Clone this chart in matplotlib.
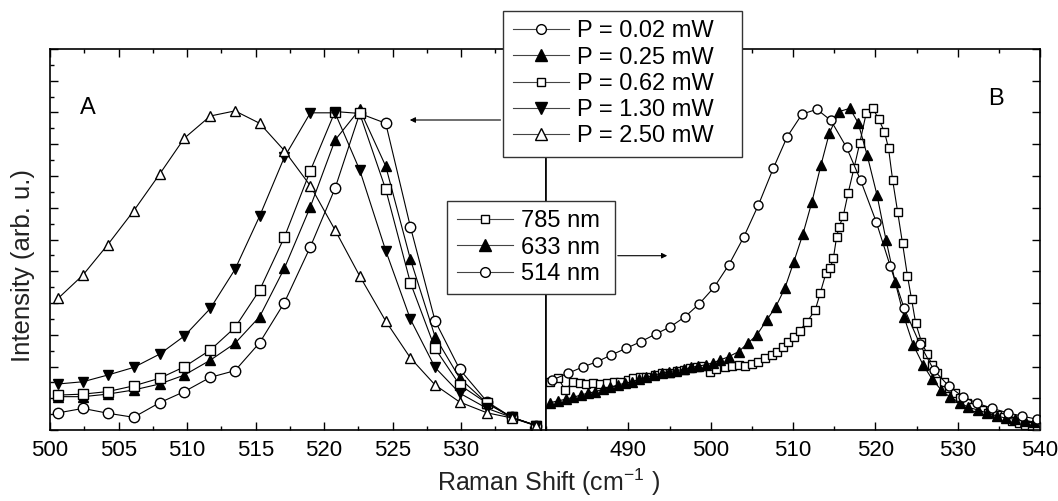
import matplotlib
matplotlib.use("Agg")
import matplotlib.pyplot as plt
from matplotlib.ticker import MultipleLocator
from matplotlib.patches import FancyArrowPatch
from matplotlib.lines import Line2D

plt.rcParams['font.family'] = ['Liberation Sans', 'DejaVu Sans']
plt.rcParams['mathtext.fontset'] = 'custom'
plt.rcParams['mathtext.rm'] = 'Liberation Sans'
plt.rcParams['mathtext.it'] = 'Liberation Sans'
plt.rcParams['mathtext.default'] = 'regular'

# panel A: power series, shared x
x_a = [500.6, 502.4, 504.2, 506.1, 508.0, 509.8, 511.7, 513.5, 515.3, 517.1,
       519.0, 520.8, 522.6, 524.5, 526.3, 528.1, 529.9, 531.9, 533.7, 535.5]
p002 = [0.054, 0.068, 0.053, 0.040, 0.086, 0.121, 0.166, 0.187, 0.275, 0.401,
        0.577, 0.761, 0.997, 0.966, 0.640, 0.344, 0.191, 0.089, 0.040, 0.014]
p025 = [0.105, 0.105, 0.113, 0.126, 0.145, 0.173, 0.220, 0.273, 0.357, 0.509,
        0.703, 0.913, 1.010, 0.831, 0.538, 0.294, 0.163, 0.084, 0.040, 0.014]
p062 = [0.110, 0.113, 0.121, 0.139, 0.163, 0.199, 0.252, 0.323, 0.441, 0.607,
        0.817, 1.003, 0.997, 0.758, 0.464, 0.257, 0.142, 0.084, 0.040, 0.013]
p130 = [0.145, 0.152, 0.173, 0.197, 0.239, 0.296, 0.383, 0.506, 0.674, 0.859,
        0.999, 0.999, 0.819, 0.565, 0.349, 0.197, 0.116, 0.068, 0.040, 0.014]
p250 = [0.415, 0.488, 0.583, 0.690, 0.806, 0.919, 0.989, 1.005, 0.966, 0.880,
        0.769, 0.630, 0.485, 0.343, 0.227, 0.142, 0.088, 0.054, 0.038, 0.013]
power_labels = ['P = 0.02 mW', 'P = 0.25 mW', 'P = 0.62 mW', 'P = 1.30 mW', 'P = 2.50 mW']

# panel B: wavelength series
x_514 = [480.7, 482.7, 484.5, 486.2, 487.9, 489.7, 491.5, 493.3, 495.1, 496.9,
         498.6, 500.4, 502.2, 504.0, 505.8, 507.6, 509.3, 511.1, 512.9, 514.6,
         516.5, 518.2, 520.1, 521.8, 523.5, 525.4, 527.1, 528.9, 530.6, 532.4,
         534.2, 536.1, 537.8, 539.6]
i_514 = [0.157, 0.179, 0.199, 0.215, 0.236, 0.257, 0.278, 0.302, 0.325, 0.357,
         0.397, 0.449, 0.520, 0.607, 0.709, 0.824, 0.924, 0.995, 1.010, 0.975,
         0.890, 0.787, 0.656, 0.517, 0.383, 0.271, 0.189, 0.139, 0.105, 0.084,
         0.068, 0.054, 0.044, 0.034]

x_633 = [480.5, 481.5, 482.4, 483.3, 484.2, 485.1, 486.0, 486.9, 487.8, 488.7,
         489.6, 490.4, 491.3, 492.2, 493.1, 494.1, 494.9, 495.8, 496.7, 497.6,
         498.5, 499.4, 500.3, 501.1, 502.2, 503.4, 504.5, 505.6, 506.8, 507.9,
         509.0, 510.1, 511.2, 512.3, 513.4, 514.4, 515.6, 516.9, 517.9, 519.0,
         520.2, 521.3, 522.4, 523.5, 524.6, 525.8, 526.9, 528.0, 529.1, 530.3,
         531.3, 532.5, 533.6, 534.8, 535.9, 537.0, 538.2, 539.3]
i_633 = [0.086, 0.092, 0.097, 0.103, 0.110, 0.116, 0.121, 0.128, 0.134, 0.142,
         0.147, 0.152, 0.160, 0.166, 0.173, 0.179, 0.184, 0.187, 0.191, 0.197,
         0.202, 0.205, 0.212, 0.220, 0.231, 0.247, 0.273, 0.299, 0.346, 0.388,
         0.446, 0.530, 0.617, 0.719, 0.835, 0.934, 1.003, 1.013, 0.968, 0.866,
         0.740, 0.598, 0.467, 0.355, 0.268, 0.205, 0.160, 0.126, 0.103, 0.086,
         0.071, 0.063, 0.053, 0.044, 0.037, 0.034, 0.029, 0.026]

x_785 = [480.5, 481.5, 482.3, 483.3, 484.1, 484.9, 485.7, 486.6, 487.4, 488.3,
         489.0, 489.9, 490.6, 491.4, 492.2, 493.2, 494.1, 495.1, 495.9, 496.7,
         497.5, 498.3, 499.1, 499.9, 500.7, 501.7, 502.6, 503.4, 504.2, 505.0,
         505.8, 506.6, 507.4, 508.1, 508.8, 509.4, 510.1, 510.8, 511.7, 512.7,
         513.3, 514.0, 514.5, 514.9, 515.3, 515.6, 516.1, 516.7, 517.4, 518.1,
         518.9, 519.7, 520.4, 521.1, 521.6, 522.1, 522.7, 523.3, 523.9, 524.4,
         524.9, 525.6, 526.3, 526.9, 527.5, 528.3, 528.9, 529.7, 530.3, 531.1,
         531.9, 532.9, 533.7, 534.8, 535.6, 536.6, 537.4, 538.2, 539.0, 539.6]
i_785 = [0.152, 0.163, 0.126, 0.152, 0.147, 0.145, 0.147, 0.145, 0.147, 0.152,
         0.152, 0.157, 0.163, 0.168, 0.168, 0.173, 0.179, 0.180, 0.187, 0.189,
         0.194, 0.197, 0.202, 0.184, 0.191, 0.197, 0.202, 0.205, 0.202, 0.208,
         0.215, 0.226, 0.236, 0.247, 0.262, 0.278, 0.294, 0.313, 0.341, 0.378,
         0.431, 0.494, 0.509, 0.541, 0.609, 0.640, 0.674, 0.747, 0.824, 0.903,
         0.999, 1.013, 0.979, 0.940, 0.887, 0.787, 0.688, 0.588, 0.485, 0.412,
         0.336, 0.278, 0.239, 0.205, 0.179, 0.152, 0.131, 0.116, 0.100, 0.084,
         0.073, 0.063, 0.054, 0.047, 0.040, 0.029, 0.021, 0.016, 0.013, 0.011]
wave_labels = ['785 nm', '633 nm', '514 nm']

fig = plt.figure(figsize=(10.58, 5.01), dpi=100)
ax1 = fig.add_axes([0.0473, 0.1417, 0.4688, 0.7605])
ax2 = fig.add_axes([0.5161, 0.1417, 0.4669, 0.7605])

line_kw = dict(color='black', lw=0.8)
ms_a = 7.5
ax1.plot(x_a, p002, marker='o', mfc='white', mec='black', ms=ms_a, **line_kw)
ax1.plot(x_a, p025, marker='^', mfc='black', mec='black', ms=ms_a, **line_kw)
ax1.plot(x_a, p062, marker='s', mfc='white', mec='black', ms=ms_a - 1, **line_kw)
ax1.plot(x_a, p130, marker='v', mfc='black', mec='black', ms=ms_a, **line_kw)
ax1.plot(x_a, p250, marker='^', mfc='white', mec='black', ms=ms_a, **line_kw)

ms_b = 6.5
ax2.plot(x_785, i_785, marker='s', mfc='white', mec='black', ms=ms_b - 1, **line_kw)
ax2.plot(x_633, i_633, marker='^', mfc='black', mec='black', ms=ms_b, **line_kw)
ax2.plot(x_514, i_514, marker='o', mfc='white', mec='black', ms=ms_b, **line_kw)

ax1.set_xlim(500, 536.2)
ax2.set_xlim(480, 540)
for ax in (ax1, ax2):
    ax.set_ylim(0, 1.2)
    for s in ax.spines.values():
        s.set_linewidth(1.2)

ax1.set_xticks([500, 505, 510, 515, 520, 525, 530])
ax1.xaxis.set_minor_locator(MultipleLocator(2.5))
ax1.yaxis.set_major_locator(MultipleLocator(0.1))
ax1.yaxis.set_minor_locator(MultipleLocator(0.05))
ax1.tick_params(axis='x', which='both', direction='in', top=True, labelsize=16, pad=7)
ax1.tick_params(axis='y', which='both', direction='in', left=True, right=False, labelleft=False)
ax1.tick_params(which='major', length=6, width=1)
ax1.tick_params(which='minor', length=3, width=1)

ax2.set_xticks([490, 500, 510, 520, 530, 540])
ax2.xaxis.set_minor_locator(MultipleLocator(5))
ax2.yaxis.set_major_locator(MultipleLocator(0.1))
ax2.tick_params(axis='x', which='both', direction='in', top=True, labelsize=16, pad=7)
ax2.tick_params(axis='y', which='both', direction='in', left=False, right=True, labelleft=False)
ax2.tick_params(which='major', length=6, width=1)
ax2.tick_params(which='minor', length=3, width=1)

ax1.text(0.0605, 0.874, 'A', transform=ax1.transAxes, fontsize=17, va='top')
ax2.text(0.895, 0.898, 'B', transform=ax2.transAxes, fontsize=17, va='top')

fig.text(0.518, 0.02, 'Raman Shift (cm$^{-1}$ )', fontsize=18, ha='center', va='baseline',
         color='#222222')
fig.text(0.0217, 0.471, 'Intensity (arb. u.)', fontsize=18.5, rotation=90, ha='center',
         va='center', color='#222222')

leg_kw = dict(frameon=True, fancybox=False, framealpha=1, edgecolor='#333333',
              fontsize=17, handlelength=2.4, handletextpad=0.33, labelspacing=0.18,
              borderaxespad=0, borderpad=0.4, mode='expand', loc='upper left')
h_power = [Line2D([], [], color='#444444', lw=0.8, marker=m, mfc=fc, mec='black', ms=s)
           for m, fc, s in [('o', 'white', 7), ('^', 'black', 8), ('s', 'white', 6),
                            ('v', 'black', 8), ('^', 'white', 8)]]
leg1 = fig.legend(h_power, power_labels,
                  bbox_to_anchor=(503.3 / 1058, 1 - 183 / 501, 238.5 / 1058, 172 / 501), **leg_kw)
leg1.get_frame().set_linewidth(1.0)

h_wave = [Line2D([], [], color='#444444', lw=0.8, marker=m, mfc=fc, mec='black', ms=s)
          for m, fc, s in [('s', 'white', 6), ('^', 'black', 8), ('o', 'white', 7)]]
leg2 = fig.legend(h_wave, wave_labels,
                  bbox_to_anchor=(447.3 / 1058, 1 - 314 / 501, 167.7 / 1058, 113 / 501), **leg_kw)
leg2.get_frame().set_linewidth(1.0)

for a, b in [((503.3, 120), (407, 120)), ((615, 255.7), (670, 255.7))]:
    fig.add_artist(FancyArrowPatch((a[0] / 1058, 1 - a[1] / 501), (b[0] / 1058, 1 - b[1] / 501),
                                   transform=fig.transFigure, arrowstyle='-|>',
                                   mutation_scale=8, lw=0.8, color='black', zorder=6))

fig.savefig('out.png', dpi=100)
